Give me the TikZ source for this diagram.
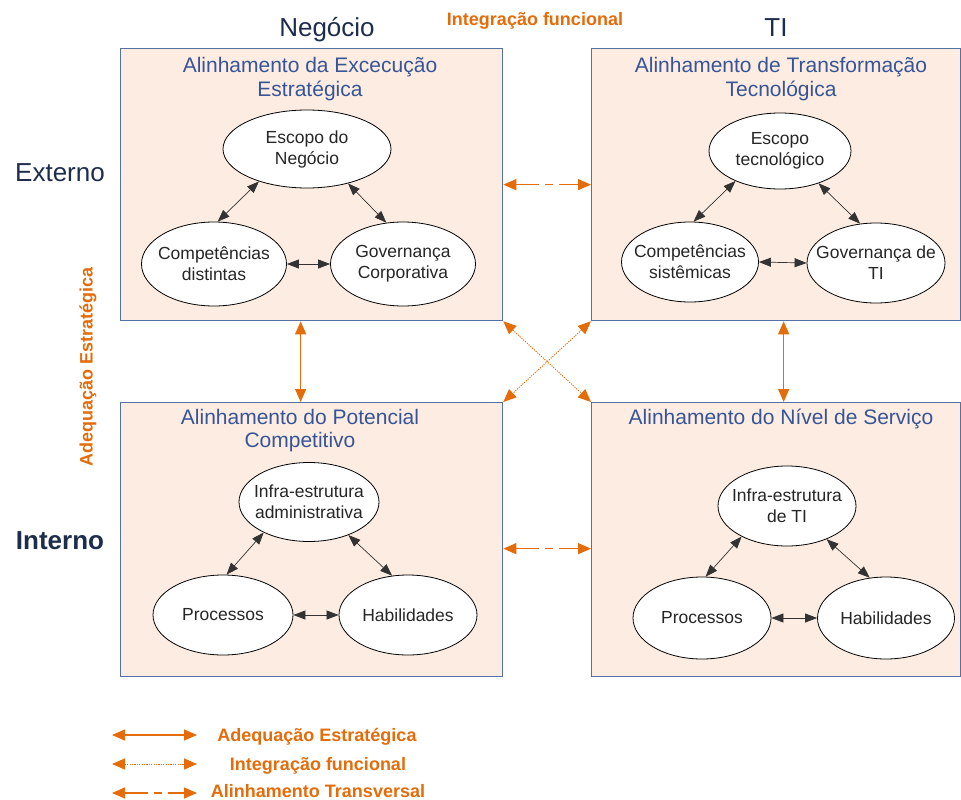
\documentclass[tikz,border=0pt]{standalone}
\usepackage{fontspec}
\setmainfont{Liberation Sans}
\usetikzlibrary{arrows.meta,shapes.geometric,calc}

\definecolor{panelfill}{RGB}{253,236,225}
\definecolor{panelline}{RGB}{85,112,162}
\definecolor{titleblue}{RGB}{55,85,150}
\definecolor{navy}{RGB}{30,45,75}
\definecolor{accent}{RGB}{228,108,10}

\begin{document}
\begin{tikzpicture}[x=1pt,y=-1pt,
  panel/.style={draw=panelline, line width=1.3pt, fill=panelfill, anchor=north west, inner sep=0pt},
  paneltitle/.style={text=titleblue, font=\fontsize{21}{23.5}\selectfont, align=center, anchor=north, inner sep=0pt},
  elemtext/.style={align=center, inner sep=0pt, font=\fontsize{17.5}{21}\selectfont, text=black!85},
  elem/.style={ellipse, draw=black, line width=0.8pt, fill=white, inner sep=0pt,
    label={[elemtext]center:#1}},
  rel/.style={{Triangle[length=12pt,width=9pt]}-{Triangle[length=12pt,width=9pt]}, line width=0.7pt, draw=black!80},
  axis/.style={text=navy, font=\fontsize{26}{30}\selectfont, anchor=base, inner sep=0pt},
  note/.style={text=accent, font=\bfseries\fontsize{18}{21}\selectfont, anchor=base, inner sep=0pt},
  adequacao/.style={draw=accent, line width=1.3pt, {Triangle[length=13pt,width=11pt]}-{Triangle[length=13pt,width=11pt]}},
  integracao/.style={adequacao, line width=0.9pt, dash pattern=on 1.2pt off 1.2pt},
  transversal/.style={adequacao, dash pattern=on 23pt off 6pt on 8pt off 6pt on 80pt off 0pt}]

\useasboundingbox[fill=white] (0,0) rectangle (961,800);

% column and row headings
\node[axis] (neg) at (327,37) {Negócio};
\node[axis] (ti) at (776,37) {TI};
\node[axis] (ext) at (60,181) {Externo};
\node[axis, font=\bfseries\fontsize{26}{30}\selectfont] (int) at (60,549) {Interno};
\node[note] (topnote) at (535,26) {Integração funcional};
\node[note, anchor=center, rotate=90] (sidenote) at (88,367) {Adequação Estratégica};

% the four domains
\node[panel, minimum width=382pt, minimum height=272pt] (tl) at (120,48) {};
\node[panel, minimum width=369pt, minimum height=272pt] (tr) at (591,48) {};
\node[panel, minimum width=382pt, minimum height=274pt] (bl) at (120,402) {};
\node[panel, minimum width=369pt, minimum height=274pt] (br) at (591,402) {};

\node[paneltitle] (tlt) at (310,57.5) {Alinhamento da Excecução\\Estratégica};
\node[paneltitle] (trt) at (781,57.5) {Alinhamento de Transformação\\Tecnológica};
\node[paneltitle] (blt) at (300,409) {Alinhamento do Potencial\\Competitivo};
\node[paneltitle] (brt) at (781,409) {Alinhamento do Nível de Serviço};

% Business / external
\node[elem={Escopo do\\Negócio}, minimum width=168pt, minimum height=78pt] (esc1) at (307,149) {};
\node[elem={Competências\\distintas}, minimum width=145pt, minimum height=84pt] (com1) at (214,264) {};
\node[elem={Governança\\Corporativa}, minimum width=145pt, minimum height=84pt] (gov1) at (403,264) {};
% IT / external
\node[elem={Escopo\\tecnológico}, minimum width=142pt, minimum height=76pt] (esc2) at (780,151) {};
\node[elem={Competências\\sistêmicas}, minimum width=137pt, minimum height=80pt] (com2) at (690,262) {};
\node[elem={Governança de\\TI}, minimum width=138pt, minimum height=80pt] (gov2) at (876,263) {};
% Business / internal
\node[elem={Infra-estrutura\\administrativa}, minimum width=140pt, minimum height=79pt] (inf1) at (309,502) {};
\node[elem={Processos}, minimum width=140pt, minimum height=80pt] (pro1) at (223,615) {};
\node[elem={Habilidades}, minimum width=138pt, minimum height=80pt] (hab1) at (408,615) {};
% IT / internal
\node[elem={Infra-estrutura\\de TI}, minimum width=138pt, minimum height=80pt] (inf2) at (787,506) {};
\node[elem={Processos}, minimum width=138pt, minimum height=82pt] (pro2) at (702,618) {};
\node[elem={Habilidades}, minimum width=137pt, minimum height=82pt] (hab2) at (886,618) {};

% relations inside each domain
\foreach \a/\b/\c in {esc1/com1/gov1, esc2/com2/gov2, inf1/pro1/hab1, inf2/pro2/hab2} {
  \draw[rel] (\a.214) -- (\b.85);
  \draw[rel] (\a.-40) -- (\c.112);
  \draw[rel] (\b.east) -- (\c.west);
}

% links between domains
\draw[transversal] (tl.east) -- (tr.west);
\draw[transversal] ([yshift=-9pt]bl.east) -- ([yshift=-9pt]br.west);
\draw[adequacao] ([xshift=-11pt]tl.south) -- ([xshift=-11pt]bl.north);
\draw[adequacao] ([xshift=7.5pt]tr.south) -- ([xshift=7.5pt]br.north);
\draw[integracao] (tl.south east) -- (br.north west);
\draw[integracao] (tr.south west) -- (bl.north east);

% legend
\coordinate (k1a) at (112,735); \coordinate (k1b) at (197,735);
\coordinate (k2a) at (112,764); \coordinate (k2b) at (197,764);
\coordinate (k3a) at (112,793); \coordinate (k3b) at (197,793);
\draw[adequacao] (k1a) -- (k1b);
\draw[integracao] (k2a) -- (k2b);
\draw[transversal] (k3a) -- (k3b);
\node[note] (leg1) at (317,741) {Adequação Estratégica};
\node[note] (leg2) at (318,770) {Integração funcional};
\node[note] (leg3) at (318,797.5) {Alinhamento Transversal};
\end{tikzpicture}
\end{document}
